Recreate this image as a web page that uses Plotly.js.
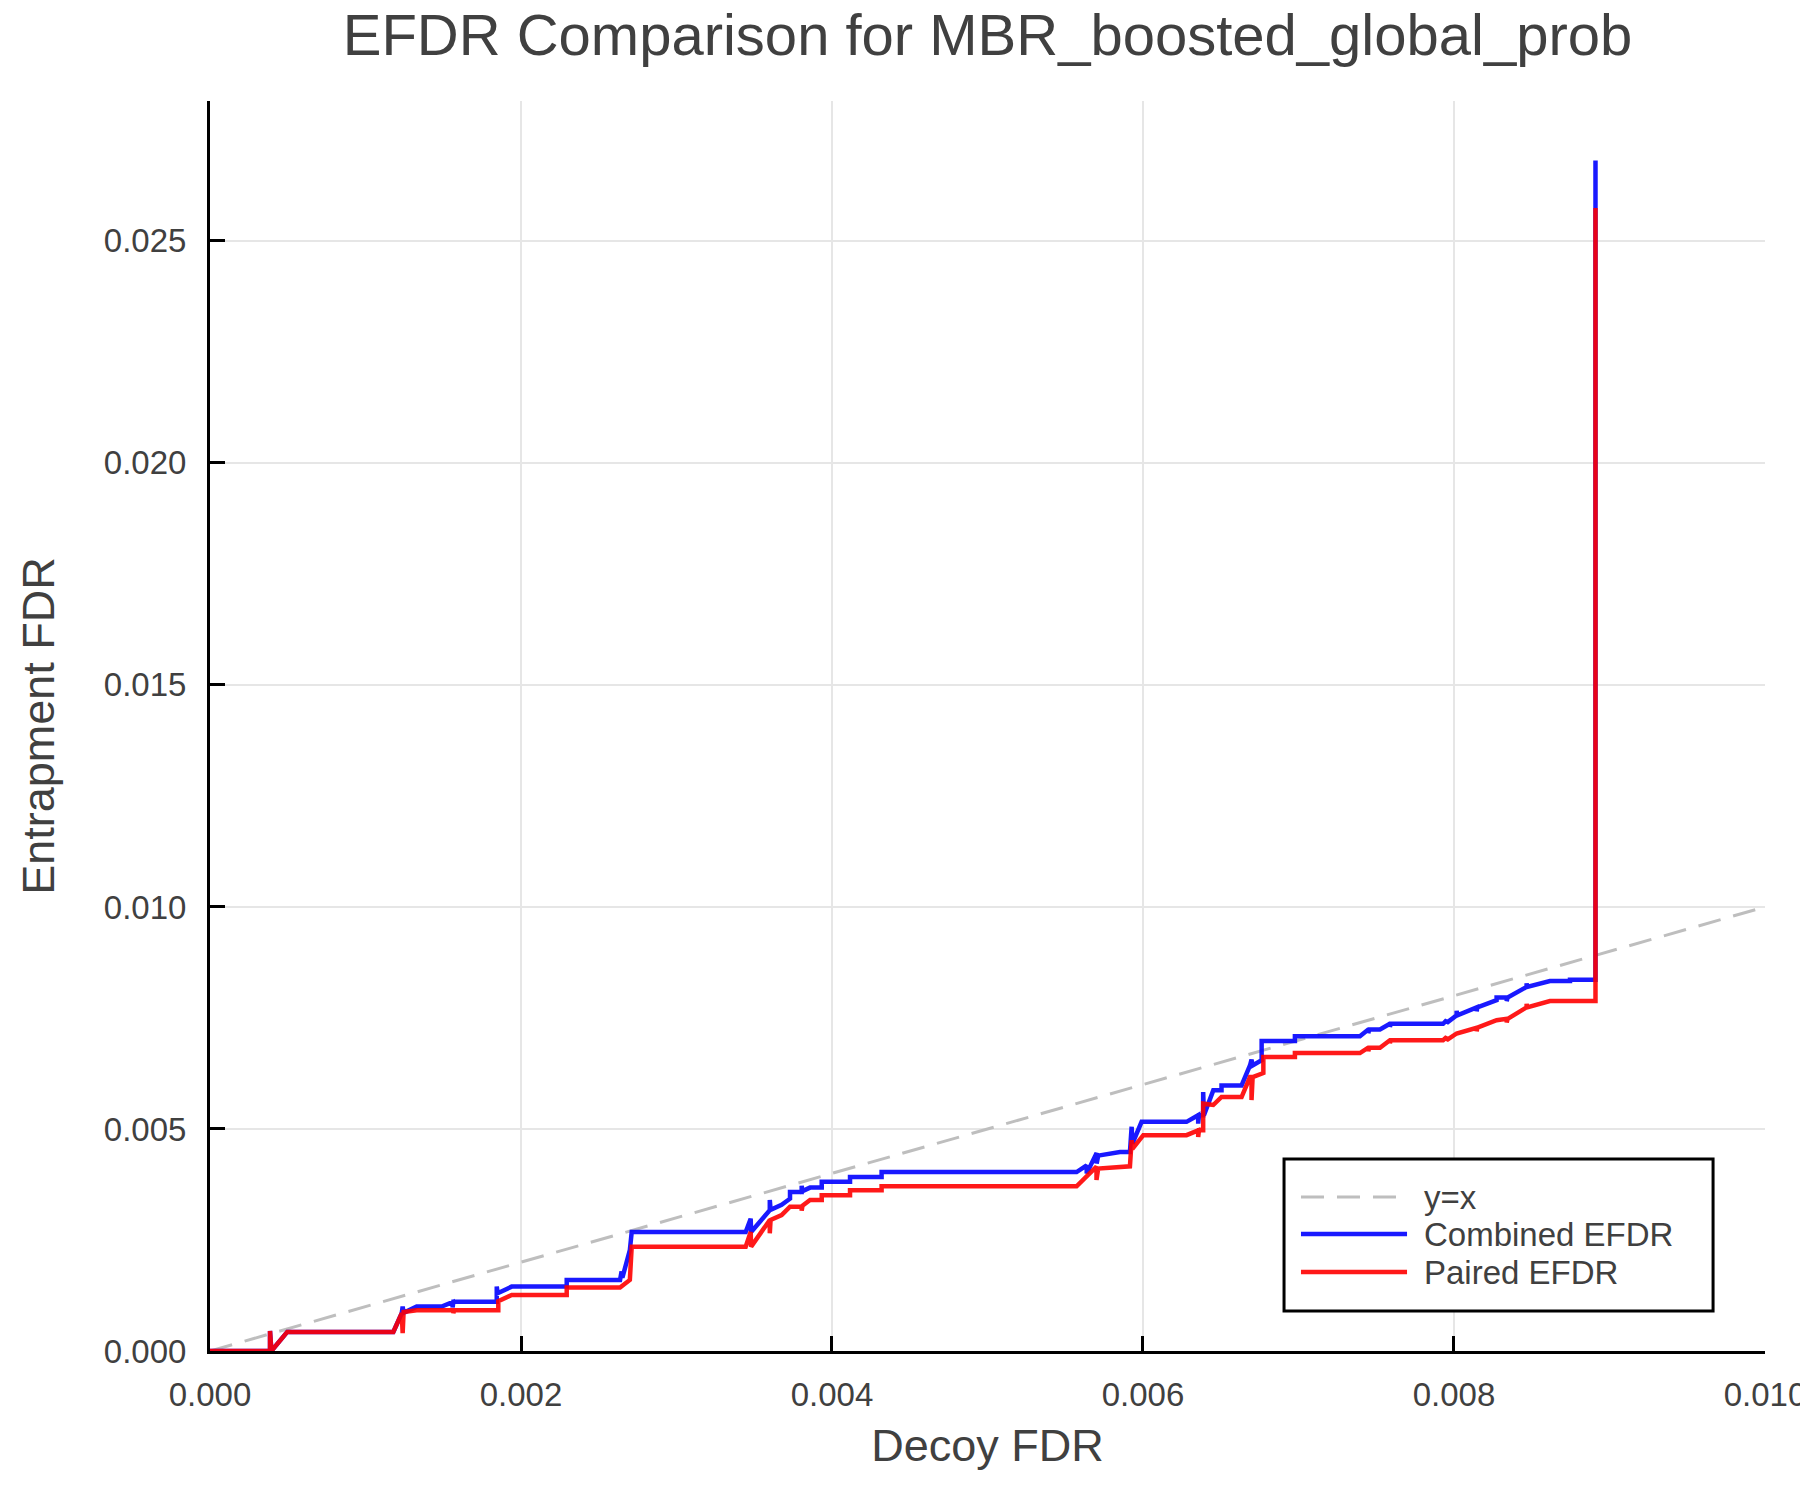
<!DOCTYPE html>
<html>
<head>
<meta charset="utf-8">
<script src="https://cdn.plot.ly/plotly-3.0.1.min.js"></script>
<style>
  body { margin: 0; background: #fff; }
  #myDiv { width: 1800px; height: 1500px; }
</style>
</head>
<body>
<div id="myDiv"></div>
<script>
// values
var combinedX = [0, 0.000386, 0.000386, 0.000395, 0.000497, 0.001179, 0.001233, 0.001239, 0.001245, 0.001329,
  0.00149, 0.00156, 0.00156, 0.001565, 0.001844, 0.001844, 0.00185, 0.00194, 0.002294, 0.002294,
  0.002637, 0.002647, 0.002652, 0.0027, 0.002712, 0.003445, 0.003477, 0.00348, 0.0036, 0.0036,
  0.003605, 0.003676, 0.00373, 0.00373, 0.003805, 0.003805, 0.00381, 0.003859, 0.003934, 0.003934,
  0.004116, 0.004116, 0.004319, 0.004319, 0.005573, 0.005638, 0.005638, 0.005702, 0.005702, 0.005712,
  0.005852, 0.005916, 0.005927, 0.005932, 0.005991, 0.00628, 0.006355, 0.006355, 0.00636, 0.006387,
  0.006387, 0.006392, 0.006452, 0.006505, 0.006505, 0.006634, 0.006688, 0.006698, 0.006705, 0.006763,
  0.006763, 0.006977, 0.006977, 0.007395, 0.007449, 0.007449, 0.007455, 0.007524, 0.007588, 0.007588,
  0.007593, 0.00793, 0.007953, 0.007953, 0.008017, 0.008017, 0.008022, 0.008146, 0.008146, 0.00815,
  0.008274, 0.008274, 0.008339, 0.008339, 0.008345, 0.008467, 0.008467, 0.00847, 0.008617, 0.008746,
  0.008746, 0.00891, 0.00891];
var combinedY = [0, 0, 0.00045, 0, 0.00043, 0.00043, 0.00085, 0.00100, 0.00086, 0.00100,
  0.00100, 0.00110, 0.00098, 0.00111, 0.00111, 0.00145, 0.00130, 0.00145, 0.00145, 0.00160,
  0.00160, 0.00179, 0.00165, 0.00227, 0.00268, 0.00268, 0.00298, 0.00268, 0.00317, 0.00340,
  0.00318, 0.00329, 0.00343, 0.00358, 0.00358, 0.00372, 0.00360, 0.00368, 0.00368, 0.00381,
  0.00381, 0.00392, 0.00392, 0.00403, 0.00403, 0.00418, 0.00400, 0.00446, 0.00422, 0.00440,
  0.00448, 0.00448, 0.00505, 0.00467, 0.00516, 0.00516, 0.00531, 0.00512, 0.00531, 0.00531,
  0.00583, 0.00531, 0.00587, 0.00587, 0.00598, 0.00598, 0.00643, 0.00656, 0.00643, 0.00655,
  0.00698, 0.00698, 0.00709, 0.00709, 0.00724, 0.00716, 0.00724, 0.00724, 0.00737, 0.00730,
  0.00737, 0.00737, 0.00745, 0.00739, 0.00756, 0.00766, 0.00756, 0.00774, 0.00765, 0.00774,
  0.00790, 0.00796, 0.00796, 0.00788, 0.00796, 0.00820, 0.00828, 0.00820, 0.00833, 0.00833,
  0.00836, 0.00836, 0.02681];

var pairedX = [0, 0.000386, 0.000386, 0.000395, 0.000497, 0.001179, 0.001233, 0.001239, 0.001245, 0.001329,
  0.001565, 0.001565, 0.00157, 0.001854, 0.001854, 0.00194, 0.002294, 0.002294, 0.002637, 0.0027,
  0.002712, 0.003445, 0.003477, 0.00348, 0.0036, 0.0036, 0.003605, 0.003676, 0.00373, 0.003805,
  0.003805, 0.00381, 0.003859, 0.003934, 0.003934, 0.004116, 0.004116, 0.004319, 0.004319, 0.005573,
  0.005701, 0.005701, 0.005712, 0.005852, 0.005916, 0.005927, 0.005932, 0.006002, 0.00628, 0.006355,
  0.006355, 0.00636, 0.006387, 0.006387, 0.006452, 0.006505, 0.006634, 0.006688, 0.006698, 0.006698,
  0.006705, 0.006774, 0.006774, 0.006977, 0.006977, 0.007395, 0.007449, 0.007449, 0.007455, 0.007524,
  0.007588, 0.007588, 0.007593, 0.00793, 0.007953, 0.007953, 0.008017, 0.008146, 0.008146, 0.00815,
  0.008274, 0.008339, 0.008339, 0.008345, 0.008467, 0.008467, 0.00847, 0.008617, 0.00891, 0.00891];
var pairedY = [0, 0, 0.00045, 0, 0.00043, 0.00043, 0.00085, 0.00040, 0.00088, 0.00092,
  0.00092, 0.00085, 0.00092, 0.00092, 0.00112, 0.00126, 0.00126, 0.00143, 0.00143, 0.00160,
  0.00235, 0.00235, 0.00268, 0.00235, 0.00295, 0.00265, 0.00295, 0.00306, 0.00325, 0.00325,
  0.00316, 0.00327, 0.00340, 0.00340, 0.00351, 0.00351, 0.00362, 0.00362, 0.00371, 0.00371,
  0.00415, 0.00385, 0.00411, 0.00416, 0.00416, 0.00475, 0.00455, 0.00486, 0.00486, 0.00497,
  0.00482, 0.00497, 0.00497, 0.00557, 0.00554, 0.00572, 0.00572, 0.00617, 0.00617, 0.00565,
  0.00617, 0.00626, 0.00662, 0.00662, 0.00671, 0.00671, 0.00683, 0.00675, 0.00683, 0.00683,
  0.00700, 0.00693, 0.00700, 0.00700, 0.00707, 0.00700, 0.00715, 0.00728, 0.00720, 0.00728,
  0.00745, 0.00748, 0.00740, 0.00748, 0.00774, 0.00782, 0.00774, 0.00788, 0.00788, 0.02574];

var diagX = [0, 0.01];
var diagY = [0, 0.01];

var xTicks = [0, 0.002, 0.004, 0.006, 0.008, 0.010];
var yTicks = [0, 0.005, 0.010, 0.015, 0.020, 0.025];

var legendNames = ['y=x', 'Combined EFDR', 'Paired EFDR'];
var legendColors = ['rgb(190,190,190)', 'rgba(0,0,255,0.9)', 'rgba(255,0,0,0.9)'];
var legendDash = ['23px,13px', 'solid', 'solid'];

var textColor = '#404040';
var fontFam = '"Liberation Sans", Arial, Helvetica, sans-serif';

function drawChart(){
    var diag = {
        x: diagX, y: diagY,
        type: 'scatter', mode: 'lines',
        name: legendNames[0],
        line: {color: legendColors[0], width: 3, dash: legendDash[0]},
        hoverinfo: 'skip'
    };
    var combined = {
        x: combinedX, y: combinedY,
        type: 'scatter', mode: 'lines',
        name: legendNames[1],
        opacity: 0.9,
        line: {color: 'rgb(0,0,255)', width: 4.5, shape: 'linear'}
    };
    var paired = {
        x: pairedX, y: pairedY,
        type: 'scatter', mode: 'lines',
        name: legendNames[2],
        opacity: 0.9,
        line: {color: 'rgb(255,0,0)', width: 4.5, shape: 'linear'}
    };

    // legend drawn by hand so the line samples get their long Plots-style length
    var shapes = [{
        type: 'rect', xref: 'paper', yref: 'paper',
        x0: 0.6907, x1: 0.9666, y0: 0.032, y1: 0.1536,
        line: {color: 'black', width: 3}, fillcolor: 'white', layer: 'above'
    }];
    var annotations = [];
    var rowY = [0.1232, 0.0936, 0.0632];
    for (var i = 0; i < legendNames.length; i++) {
        shapes.push({
            type: 'line', xref: 'paper', yref: 'paper',
            x0: 0.7016, x1: 0.7698, y0: rowY[i], y1: rowY[i],
            line: {color: legendColors[i], width: i === 0 ? 3 : 4.5, dash: legendDash[i]},
            layer: 'above'
        });
        annotations.push({
            xref: 'paper', yref: 'paper',
            x: 0.7794, y: rowY[i], xanchor: 'left', yanchor: 'middle',
            text: legendNames[i], showarrow: false,
            font: {family: fontFam, size: 33, color: textColor}
        });
    }

    var layout = {
        width: 1800, height: 1500,
        margin: {l: 210, r: 35, t: 101, b: 149},
        paper_bgcolor: 'white', plot_bgcolor: 'white',
        showlegend: false,
        font: {family: fontFam, color: textColor},
        title: {
            text: 'EFDR Comparison for MBR_boosted_global_prob',
            font: {family: fontFam, size: 58, color: textColor},
            x: 0.5486, xanchor: 'center',
            y: 0.977, yanchor: 'middle'
        },
        xaxis: {
            range: [0, 0.0100001],
            tickvals: xTicks, tickformat: '.3f',
            tickfont: {size: 33, color: textColor},
            ticks: 'inside', ticklen: 15, tickwidth: 3, tickcolor: 'black',
            ticklabelstandoff: 12,
            ticklabeloverflow: 'allow',
            showline: true, linecolor: 'black', linewidth: 3, mirror: false,
            showgrid: true, gridcolor: '#e6e6e6', gridwidth: 1.5,
            zeroline: false,
            title: {text: 'Decoy FDR', font: {size: 45, color: textColor}, standoff: 18}
        },
        yaxis: {
            range: [0, 0.02815],
            tickvals: yTicks, tickformat: '.3f',
            tickfont: {size: 33, color: textColor},
            ticks: 'inside', ticklen: 15, tickwidth: 3, tickcolor: 'black',
            ticklabelstandoff: 14,
            showline: true, linecolor: 'black', linewidth: 3, mirror: false,
            showgrid: true, gridcolor: '#e6e6e6', gridwidth: 1.5,
            zeroline: false,
            title: {text: 'Entrapment FDR', font: {size: 45, color: textColor}, standoff: 36}
        },
        shapes: shapes,
        annotations: annotations
    };

    Plotly.newPlot('myDiv', [diag, combined, paired], layout, {staticPlot: true});
}

drawChart();
</script>
</body>
</html>
